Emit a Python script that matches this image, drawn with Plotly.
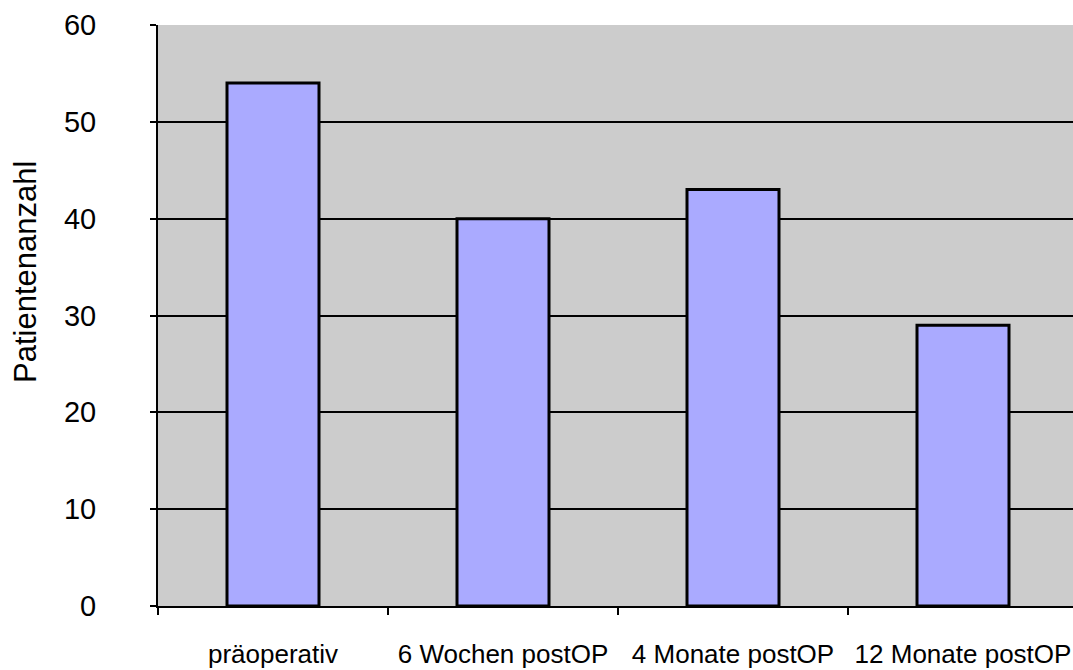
import plotly.graph_objects as go

# Patient counts per time point
categories = ["präoperativ", "6 Wochen postOP", "4 Monate postOP", "12 Monate postOP"]
patients = [54, 40, 43, 29]
y_ticks = [0, 10, 20, 30, 40, 50, 60]

W, H = 1073, 670
left, top, bottom = 158, 25, 64
cat_px = 230  # pixel width of one category slot
x_span = (W - left) / cat_px

fig = go.Figure(
    go.Bar(
        x=categories,
        y=patients,
        width=0.4,
        marker=dict(color="#aaaaff", line=dict(color="black", width=3)),
    )
)

fig.update_layout(
    width=W,
    height=H,
    margin=dict(l=left, r=0, t=top, b=bottom),
    paper_bgcolor="white",
    plot_bgcolor="#cccccc",
    showlegend=False,
    font=dict(family="Liberation Sans, Arial, Helvetica, sans-serif", color="black"),
)

fig.update_xaxes(
    type="category",
    range=[-0.5, -0.5 + x_span],
    tickson="boundaries",
    ticks="outside",
    ticklen=7,
    tickwidth=2,
    tickcolor="black",
    tickfont=dict(size=26),
    ticklabelstandoff=24,
    showgrid=False,
    showline=True,
    linecolor="black",
    linewidth=2,
    zeroline=False,
    automargin=False,
)

fig.update_yaxes(
    range=[0, 60],
    tickmode="array",
    tickvals=y_ticks,
    ticks="outside",
    ticklen=6,
    tickwidth=2,
    tickcolor="black",
    tickfont=dict(size=29),
    ticklabelstandoff=48,
    showgrid=True,
    gridcolor="black",
    gridwidth=2,
    showline=True,
    linecolor="black",
    linewidth=2,
    zeroline=False,
    automargin=False,
)

# Axis title placed as a rotated annotation in pixel-based paper coordinates
plot_h = H - top - bottom
fig.add_annotation(
    text="Patientenanzahl",
    textangle=-90,
    xref="paper",
    yref="paper",
    x=(25 - left) / (W - left),
    y=(H - bottom - 272) / plot_h,
    xanchor="center",
    yanchor="middle",
    showarrow=False,
    font=dict(size=31),
)

fig.write_html("out.html")
